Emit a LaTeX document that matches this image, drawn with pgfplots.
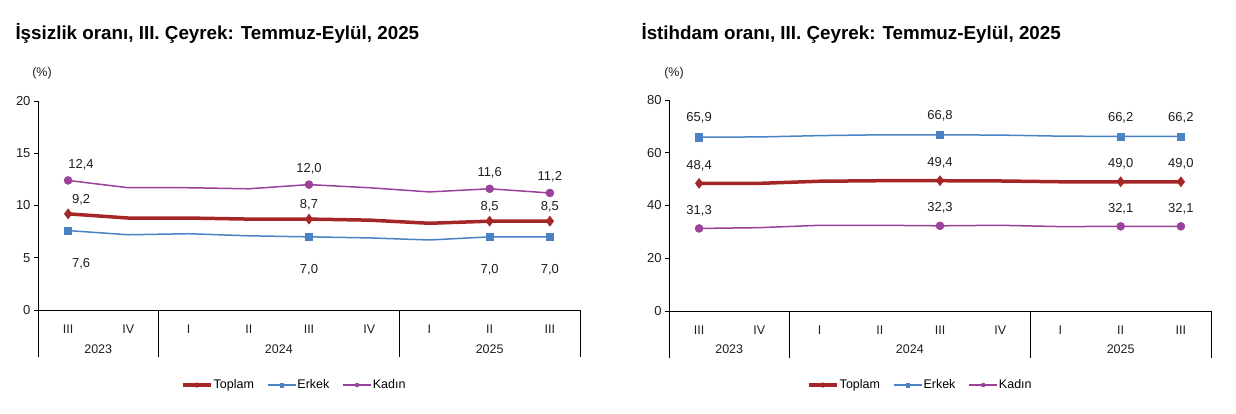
\documentclass[border=0pt]{standalone}
\usepackage{fontspec}
\setmainfont{Liberation Sans}
\usepackage{pgfplots}
\pgfplotsset{compat=1.18}

\definecolor{toplam}{RGB}{165,38,38}
\definecolor{erkek}{RGB}{74,130,195}
\definecolor{kadin}{RGB}{155,64,155}
\definecolor{lbltxt}{RGB}{30,30,30}

\newcommand{\fs}[1]{\fontsize{#1}{#1}\selectfont}

\pgfplotsset{
  tuik/.style={
    scale only axis, width=542bp,
    xmin=-0.5, xmax=8.5,
    axis x line*=bottom, axis y line*=left,
    axis line style={black, line width=0.9bp},
    xtick={0,...,8}, xticklabels={III,IV,I,II,III,IV,I,II,III},
    xtick style={draw=none},
    xticklabel style={font=\fs{12.5bp}, text=lbltxt, anchor=center, yshift=-15bp},
    ytick style={black, line width=0.9bp},
    tick align=outside, major tick length=4bp,
    yticklabel style={font=\fs{13bp}, text=lbltxt},
    /pgf/number format/assume math mode=true,
    clip=false,
    legend columns=3,
    legend style={draw=none, fill=none, font=\fs{12.5bp},
      /tikz/every even column/.append style={column sep=12bp},
      nodes={inner xsep=1bp}},
    legend image code/.code={
      \draw[##1, mark indices={2}, every mark/.append style={scale=0.5}]
        plot coordinates {(0bp,0bp) (14bp,0bp) (28bp,0bp)};
    },
  },
  sTop/.style={draw=toplam, line width=3.5bp, mark=diamond*, mark size=5bp,
    mark options={fill=toplam, draw=toplam, line width=0.5bp}, mark indices={1,5,8,9}},
  sErk/.style={draw=erkek, line width=1.5bp, mark=square*, mark size=3.6bp,
    mark options={fill=erkek, draw=erkek, line width=0.5bp}, mark indices={1,5,8,9}},
  sKad/.style={draw=kadin, line width=1.5bp, mark=*, mark size=4bp,
    mark options={fill=kadin, draw=kadin, line width=0.5bp}, mark indices={1,5,8,9}},
  lbl/.style={forget plot, draw=none, mark=none, nodes near coords,
    point meta=explicit symbolic,
    every node near coord/.append style={font=\fs{13bp}, text=lbltxt, anchor=center, yshift=#1}},
}

\begin{document}
\begin{tikzpicture}
\useasboundingbox (0bp,0bp) rectangle (1236bp,-414bp);

% ---------- Issizlik orani ----------
\begin{axis}[tuik, height=209bp,
  at={(38bp,-310bp)}, anchor=south west,
  ymin=0, ymax=20, ytick={0,5,10,15,20},
  legend style={at={(0.472,-0.359)}, anchor=center},
  visualization depends on={\coordindex \as \ci},
  every node near coord/.append style={xshift={13*(\ci==0)}},
]
\addplot[sTop] coordinates {(0,9.2) (1,8.8) (2,8.8) (3,8.7) (4,8.7) (5,8.6) (6,8.3) (7,8.5) (8,8.5)};
\addlegendentry{Toplam}
\addplot[sErk] coordinates {(0,7.6) (1,7.2) (2,7.3) (3,7.1) (4,7.0) (5,6.9) (6,6.7) (7,7.0) (8,7.0)};
\addlegendentry{Erkek}
\addplot[sKad] coordinates {(0,12.4) (1,11.7) (2,11.7) (3,11.6) (4,12.0) (5,11.7) (6,11.3) (7,11.6) (8,11.2)};
\addlegendentry{Kadın}

\addplot[lbl=16bp] coordinates {(0,12.4) [12,4] (4,12.0) [12,0] (7,11.6) [11,6] (8,11.2) [11,2]};
\addplot[lbl=14bp] coordinates {(0,9.2) [9,2] (4,8.7) [8,7] (7,8.5) [8,5] (8,8.5) [8,5]};
\addplot[lbl=-33bp] coordinates {(0,7.6) [7,6] (4,7.0) [7,0] (7,7.0) [7,0] (8,7.0) [7,0]};

\foreach \s in {-0.5,1.5,5.5,8.5} {
  \edef\tmp{\noexpand\draw[black, line width=0.9bp] (axis cs:\s,0) -- ([yshift=-47bp]axis cs:\s,0);}\tmp
}
\node[font=\fs{12.5bp}, text=lbltxt] at (axis cs:0.5,0) [yshift=-39bp] {2023};
\node[font=\fs{12.5bp}, text=lbltxt] at (axis cs:3.5,0) [yshift=-39bp] {2024};
\node[font=\fs{12.5bp}, text=lbltxt] at (axis cs:7,0) [yshift=-39bp] {2025};
\node[font=\fs{12.5bp}, text=lbltxt] at (rel axis cs:0,1) [xshift=4bp, yshift=28bp] {(\%)};
\node[font=\fs{18.8bp}\bfseries, anchor=west] at (rel axis cs:0,1) [xshift=-26bp, yshift=68bp] {İşsizlik oranı, III. Çeyrek:  Temmuz-Eylül, 2025};
\end{axis}

% ---------- Istihdam orani ----------
\begin{axis}[tuik, height=211bp,
  at={(669bp,-311bp)}, anchor=south west,
  ymin=0, ymax=80, ytick={0,20,40,60,80},
  legend style={at={(0.463,-0.351)}, anchor=center},
]
\addplot[sTop] coordinates {(0,48.4) (1,48.4) (2,49.2) (3,49.4) (4,49.4) (5,49.3) (6,49.0) (7,49.0) (8,49.0)};
\addlegendentry{Toplam}
\addplot[sErk] coordinates {(0,65.9) (1,66.0) (2,66.5) (3,66.8) (4,66.8) (5,66.7) (6,66.3) (7,66.2) (8,66.2)};
\addlegendentry{Erkek}
\addplot[sKad] coordinates {(0,31.3) (1,31.6) (2,32.5) (3,32.5) (4,32.3) (5,32.5) (6,32.0) (7,32.1) (8,32.1)};
\addlegendentry{Kadın}

\addplot[lbl=19bp] coordinates {(0,65.9) [65,9] (4,66.8) [66,8] (7,66.2) [66,2] (8,66.2) [66,2]};
\addplot[lbl=18bp] coordinates {(0,48.4) [48,4] (4,49.4) [49,4] (7,49.0) [49,0] (8,49.0) [49,0]};
\addplot[lbl=18bp] coordinates {(0,31.3) [31,3] (4,32.3) [32,3] (7,32.1) [32,1] (8,32.1) [32,1]};

\foreach \s in {-0.5,1.5,5.5,8.5} {
  \edef\tmp{\noexpand\draw[black, line width=0.9bp] (axis cs:\s,0) -- ([yshift=-47bp]axis cs:\s,0);}\tmp
}
\node[font=\fs{12.5bp}, text=lbltxt] at (axis cs:0.5,0) [yshift=-38bp] {2023};
\node[font=\fs{12.5bp}, text=lbltxt] at (axis cs:3.5,0) [yshift=-38bp] {2024};
\node[font=\fs{12.5bp}, text=lbltxt] at (axis cs:7,0) [yshift=-38bp] {2025};
\node[font=\fs{12.5bp}, text=lbltxt] at (rel axis cs:0,1) [xshift=5bp, yshift=27bp] {(\%)};
\node[font=\fs{18.8bp}\bfseries, anchor=west] at (rel axis cs:0,1) [xshift=-31bp, yshift=67bp] {İstihdam oranı, III. Çeyrek:  Temmuz-Eylül, 2025};
\end{axis}
\end{tikzpicture}
\end{document}
